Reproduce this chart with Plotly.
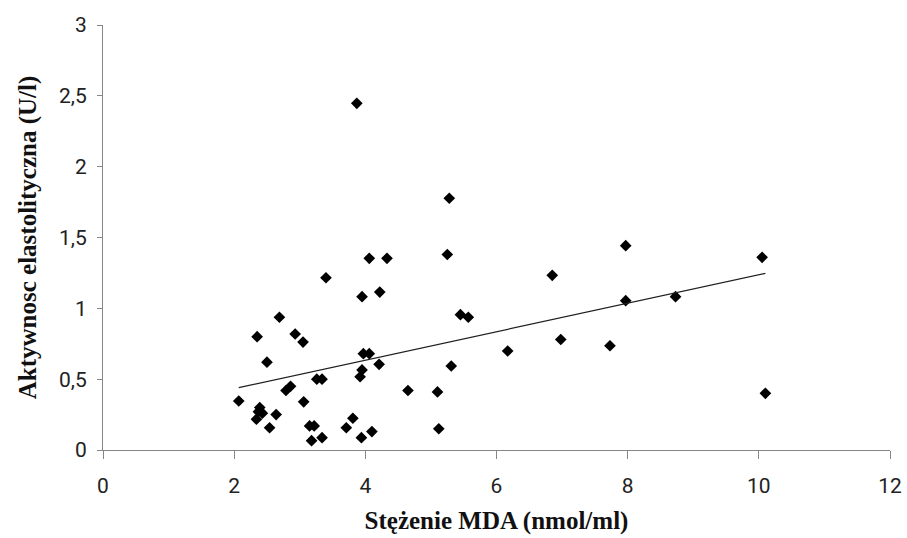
import plotly.graph_objects as go

# Data
mda = [2.07, 2.35, 2.69, 2.93, 3.05, 3.95, 2.50, 3.97, 4.06, 4.21,
       3.95, 3.92, 3.26, 3.34, 2.86, 2.79, 3.06, 4.65, 5.10, 5.31,
       2.39, 2.37, 2.43, 2.34, 2.64, 2.54, 3.15, 3.22, 3.18, 3.34,
       3.81, 3.71, 3.94, 4.10, 5.12, 5.28, 5.25, 4.06, 4.33, 3.40,
       4.22, 5.45, 5.57, 6.85, 7.97, 7.97, 6.17, 6.98, 7.73, 10.05,
       8.73, 10.10, 3.87]
activity = [0.346, 0.80, 0.937, 0.819, 0.762, 1.082, 0.62, 0.68, 0.68, 0.605,
            0.565, 0.517, 0.50, 0.50, 0.45, 0.42, 0.34, 0.42, 0.41, 0.593,
            0.30, 0.27, 0.26, 0.217, 0.25, 0.157, 0.17, 0.17, 0.066, 0.087,
            0.224, 0.157, 0.087, 0.13, 0.15, 1.777, 1.38, 1.353, 1.353, 1.216,
            1.115, 0.955, 0.937, 1.233, 1.442, 1.054, 0.699, 0.78, 0.736, 1.36,
            1.082, 0.40, 2.447]

trend_x = [2.07, 10.10]
trend_y = [0.44, 1.247]

x_ticks = [0, 2, 4, 6, 8, 10, 12]
x_ticklabels = ["0", "2", "4", "6", "8", "10", "12"]
y_ticks = [0, 0.5, 1, 1.5, 2, 2.5, 3]
y_ticklabels = ["0", "0,5", "1", "1,5", "2", "2,5", "3"]

x_title = "Stężenie MDA (nmol/ml)"
y_title = "Aktywnosc elastolityczna (U/l)"

fig = go.Figure()
fig.add_trace(go.Scatter(
    x=mda, y=activity, mode="markers",
    marker=dict(symbol="diamond", size=9, color="black"),
    showlegend=False,
))
fig.add_trace(go.Scatter(
    x=trend_x, y=trend_y, mode="lines",
    line=dict(color="#202020", width=1.2),
    showlegend=False,
))

tick_font = dict(family="Roboto, Arial", size=21, color="#222222")
title_font = dict(family="Liberation Serif, Times New Roman, serif", size=25, color="#111111")

fig.update_layout(
    width=907, height=538,
    margin=dict(l=103, r=17, t=25, b=88),
    paper_bgcolor="white", plot_bgcolor="white",
    showlegend=False,
)
fig.update_xaxes(
    range=[0, 12], tickvals=x_ticks, ticktext=x_ticklabels,
    showgrid=False, zeroline=False, automargin=False,
    showline=True, linecolor="#868686", linewidth=1,
    ticks="outside", ticklen=8, tickcolor="#868686",
    tickfont=tick_font, ticklabelstandoff=9,
    title=dict(text="<b>" + x_title + "</b>", font=title_font, standoff=14),
)
fig.update_yaxes(
    range=[0, 3], tickvals=y_ticks, ticktext=y_ticklabels,
    showgrid=False, zeroline=False, automargin=False,
    showline=True, linecolor="#868686", linewidth=1,
    ticks="outside", ticklen=5, tickcolor="#868686",
    tickfont=tick_font, ticklabelstandoff=6,
    title=dict(text="<b>" + y_title + "</b>", font=title_font, standoff=15),
)

fig.write_html("out.html")
